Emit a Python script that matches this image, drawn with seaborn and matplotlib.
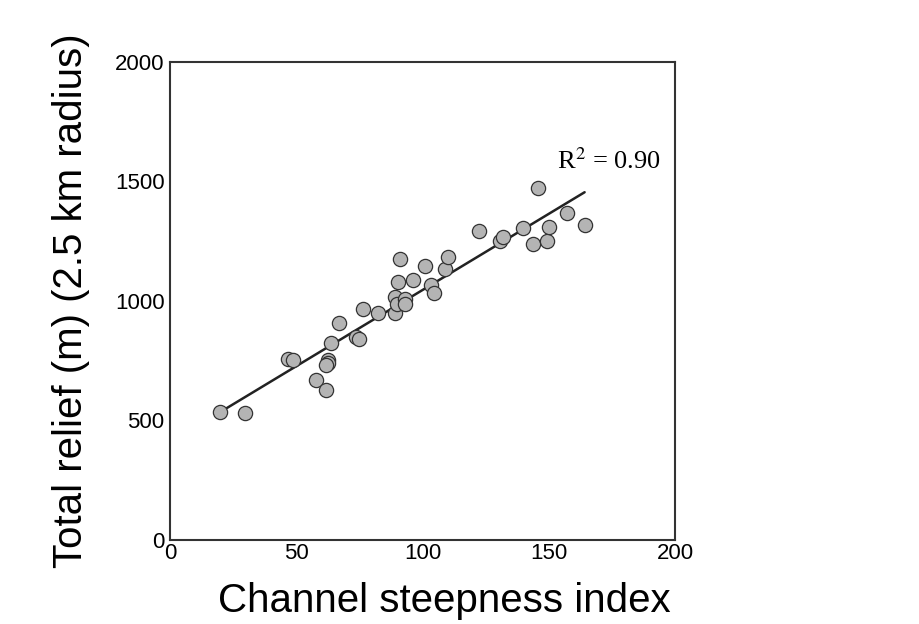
import numpy as np
import pandas as pd
import matplotlib
matplotlib.use("Agg")
import matplotlib.pyplot as plt
import seaborn as sns

# Data
steepness = [19.9, 29.7, 46.8, 48.8, 57.6, 61.5, 62.4, 62.6, 61.5, 63.8,
             66.7, 73.7, 74.8, 76.2, 82.4, 88.9, 89.0, 90.0, 90.1, 91.1,
             92.8, 92.8, 96.1, 100.8, 103.4, 104.5, 108.8, 110.2, 122.3, 130.7,
             131.9, 139.8, 143.5, 145.5, 149.4, 150.1, 157.1, 164.1]
relief = [536, 532, 755, 752, 668, 628, 752, 741, 730, 824,
          907, 850, 841, 965, 948, 950, 1015, 986, 1079, 1175,
          1006, 985, 1088, 1145, 1064, 1031, 1132, 1185, 1294, 1251,
          1265, 1305, 1238, 1472, 1249, 1309, 1368, 1316]
x_ticks = [0, 50, 100, 150, 200]
y_ticks = [0, 500, 1000, 1500, 2000]
r2_label = "R$^2$ = 0.90"

df = pd.DataFrame({"steepness": steepness, "relief": relief})

sns.set_theme(style="white")
plt.rcParams["font.family"] = ["Liberation Sans", "DejaVu Sans"]
plt.rcParams["mathtext.fontset"] = "stix"
plt.rcParams["text.color"] = "black"
plt.rcParams["axes.labelcolor"] = "black"
plt.rcParams["xtick.color"] = "black"
plt.rcParams["ytick.color"] = "black"

fig = plt.figure(figsize=(9.2, 6.24), dpi=100)
ax = fig.add_axes([0.185, 0.135, 0.549, 0.766])

sns.regplot(data=df, x="steepness", y="relief", ax=ax, ci=None, truncate=True,
            scatter=False, line_kws=dict(color="#222222", lw=1.8, zorder=2))
sns.scatterplot(data=df, x="steepness", y="relief", ax=ax, s=105,
                color="#b4b4b4", edgecolor="#333333", linewidth=0.9, zorder=3)

ax.set_xlim(0, 200)
ax.set_ylim(0, 2000)
ax.set_xticks(x_ticks)
ax.set_yticks(y_ticks)
ax.tick_params(axis="y", direction="in", length=5, width=1.2, color="#333333",
               labelsize=16, pad=4)
ax.tick_params(axis="x", direction="in", length=0, labelsize=16, pad=2)
for sp in ax.spines.values():
    sp.set_color("#333333")
    sp.set_linewidth(1.5)

ax.set_xlabel("Channel steepness index", fontsize=29, labelpad=13)
ax.xaxis.label.set_x(0.542)
ax.set_ylabel("Total relief (m) (2.5 km radius)", fontsize=29, labelpad=18)

ax.text(194, 1585, r2_label, ha="right", va="center", fontsize=19,
        family=["Liberation Serif", "DejaVu Serif"])

fig.savefig("out.png", dpi=100)
